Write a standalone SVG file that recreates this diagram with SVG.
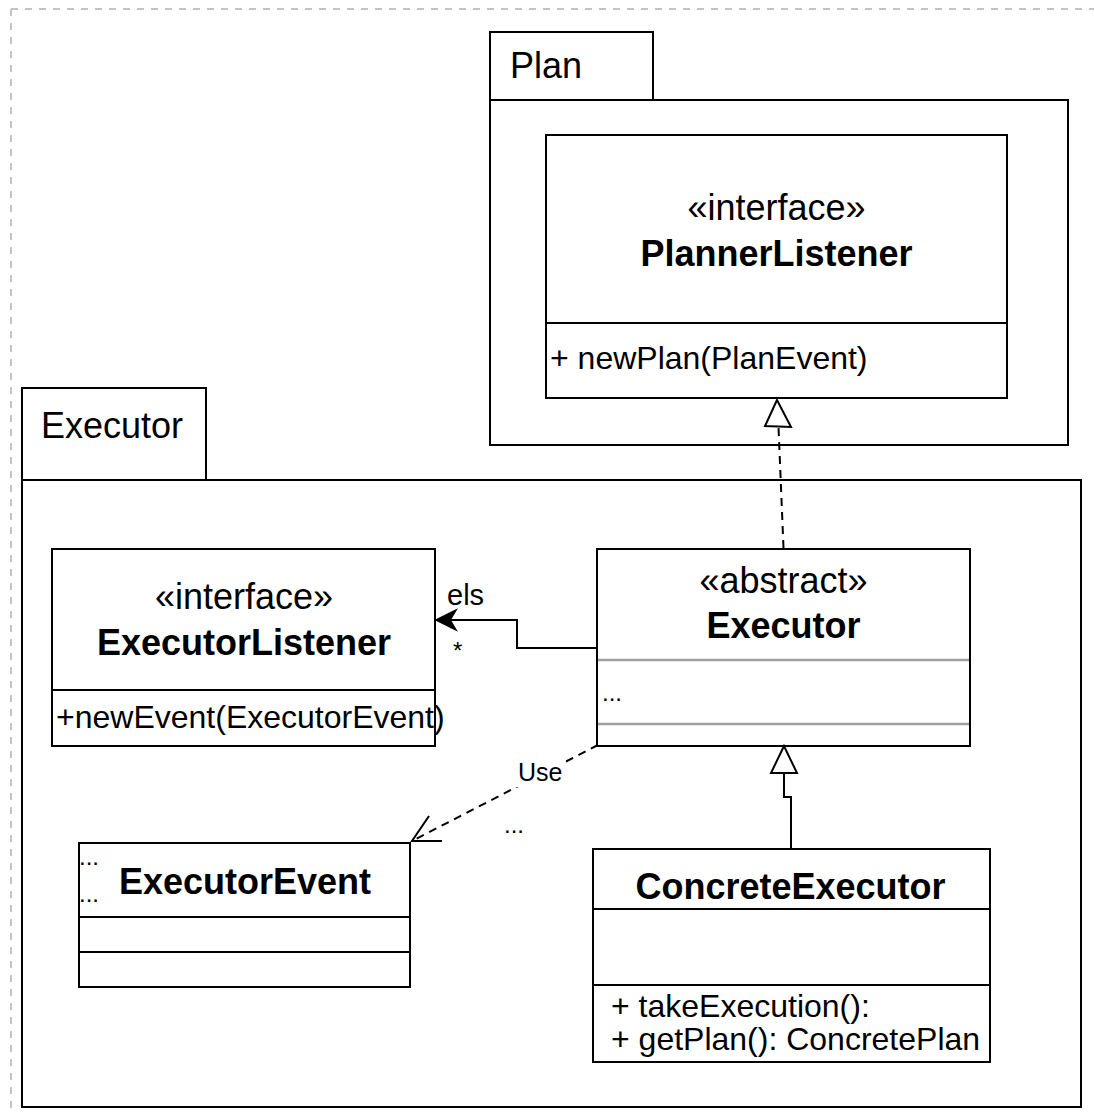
<svg xmlns="http://www.w3.org/2000/svg" width="1094" height="1113" viewBox="0 0 1094 1113">
<style>
.box{fill:#fff;stroke:#000;stroke-width:2}
.ln{fill:none;stroke:#000;stroke-width:2}
.gray{fill:none;stroke:#a0a0a0;stroke-width:2.5}
.t{font-family:"Liberation Sans",Arial,sans-serif;fill:#000}
.big{font-size:36px}
.bold{font-weight:bold}
.mem{font-size:32px}
.sm{font-size:24px}
.mid{text-anchor:middle}
</style>
<rect width="1094" height="1113" fill="#fff"/>
<g id="page-border">
<path d="M11,9 H1094 M11,9 V1113" fill="none" stroke="#c4c4c4" stroke-width="2" stroke-dasharray="7 7"/>
</g>
<g id="pkg-plan">
<rect class="box" x="490" y="32" width="163" height="68"/>
<rect class="box" x="490" y="100" width="578" height="345"/>
<text class="t big" x="510" y="78">Plan</text>
</g>
<g id="pkg-executor">
<rect class="box" x="22" y="388" width="184" height="92"/>
<rect class="box" x="22" y="480" width="1059" height="627"/>
<text class="t big" x="41" y="438">Executor</text>
</g>
<g id="planner-listener">
<rect class="box" x="546" y="135" width="461" height="263"/>
<line class="ln" x1="546" y1="323" x2="1007" y2="323"/>
<text class="t big mid" x="776.5" y="220">«interface»</text>
<text class="t big bold mid" x="776.5" y="266">PlannerListener</text>
<text class="t mem" x="550" y="369">+ newPlan(PlanEvent)</text>
</g>
<g id="executor-listener">
<rect class="box" x="52" y="549" width="383" height="197"/>
<line class="ln" x1="52" y1="690" x2="435" y2="690"/>
<text class="t big mid" x="244" y="609">«interface»</text>
<text class="t big bold mid" x="244" y="655">ExecutorListener</text>
<text class="t mem" x="56" y="728">+newEvent(ExecutorEvent)</text>
</g>
<g id="executor">
<rect class="box" x="597" y="549" width="373" height="197"/>
<line class="gray" x1="598" y1="660" x2="969" y2="660"/>
<line class="gray" x1="598" y1="724" x2="969" y2="724"/>
<text class="t big mid" x="783.5" y="593">«abstract»</text>
<text class="t big bold mid" x="783.5" y="638">Executor</text>
<text class="t sm" x="602" y="701">...</text>
</g>
<g id="executor-event">
<rect class="box" x="79" y="843" width="331" height="144"/>
<line class="ln" x1="79" y1="917" x2="410" y2="917"/>
<line class="ln" x1="79" y1="952" x2="410" y2="952"/>
<text class="t big bold mid" x="245" y="894">ExecutorEvent</text>
<text class="t sm" x="79" y="865">...</text>
<text class="t sm" x="79" y="902">...</text>
</g>
<g id="concrete-executor">
<rect class="box" x="593" y="849" width="397" height="213"/>
<line class="ln" x1="593" y1="909" x2="990" y2="909"/>
<line class="ln" x1="593" y1="985" x2="990" y2="985"/>
<text class="t big bold mid" x="790.5" y="899">ConcreteExecutor</text>
<text class="t mem" x="611" y="1017">+ takeExecution():</text>
<text class="t mem" x="611" y="1050">+ getPlan(): ConcretePlan</text>
</g>
<g id="connectors">
<path class="ln" d="M783.5,548 L778.5,427" stroke-dasharray="8 6"/>
<polygon points="777,400 765,426 791,427" fill="#fff" stroke="#000" stroke-width="2"/>
<path class="ln" d="M597,648 H517 V620 H446"/>
<path d="M436,620 L456,610 L450,620 L456,630 Z" fill="#000" stroke="#000" stroke-width="1.5"/>
<text class="t" x="447" y="605" style="font-size:29px">els</text>
<text class="t sm" x="453" y="659">*</text>
<path class="ln" d="M598,745 L412,841" stroke-dasharray="8 6"/>
<path class="ln" d="M429,816 L412,841 L442,841"/>
<rect x="516" y="760" width="50" height="27" fill="#fff"/>
<text class="t" x="518" y="781" style="font-size:25px">Use</text>
<text class="t sm" x="504" y="833">...</text>
<path class="ln" d="M791,848 V797 H784 V773"/>
<polygon points="784,746 771,773 797,773" fill="#fff" stroke="#000" stroke-width="2"/>
</g>
</svg>
